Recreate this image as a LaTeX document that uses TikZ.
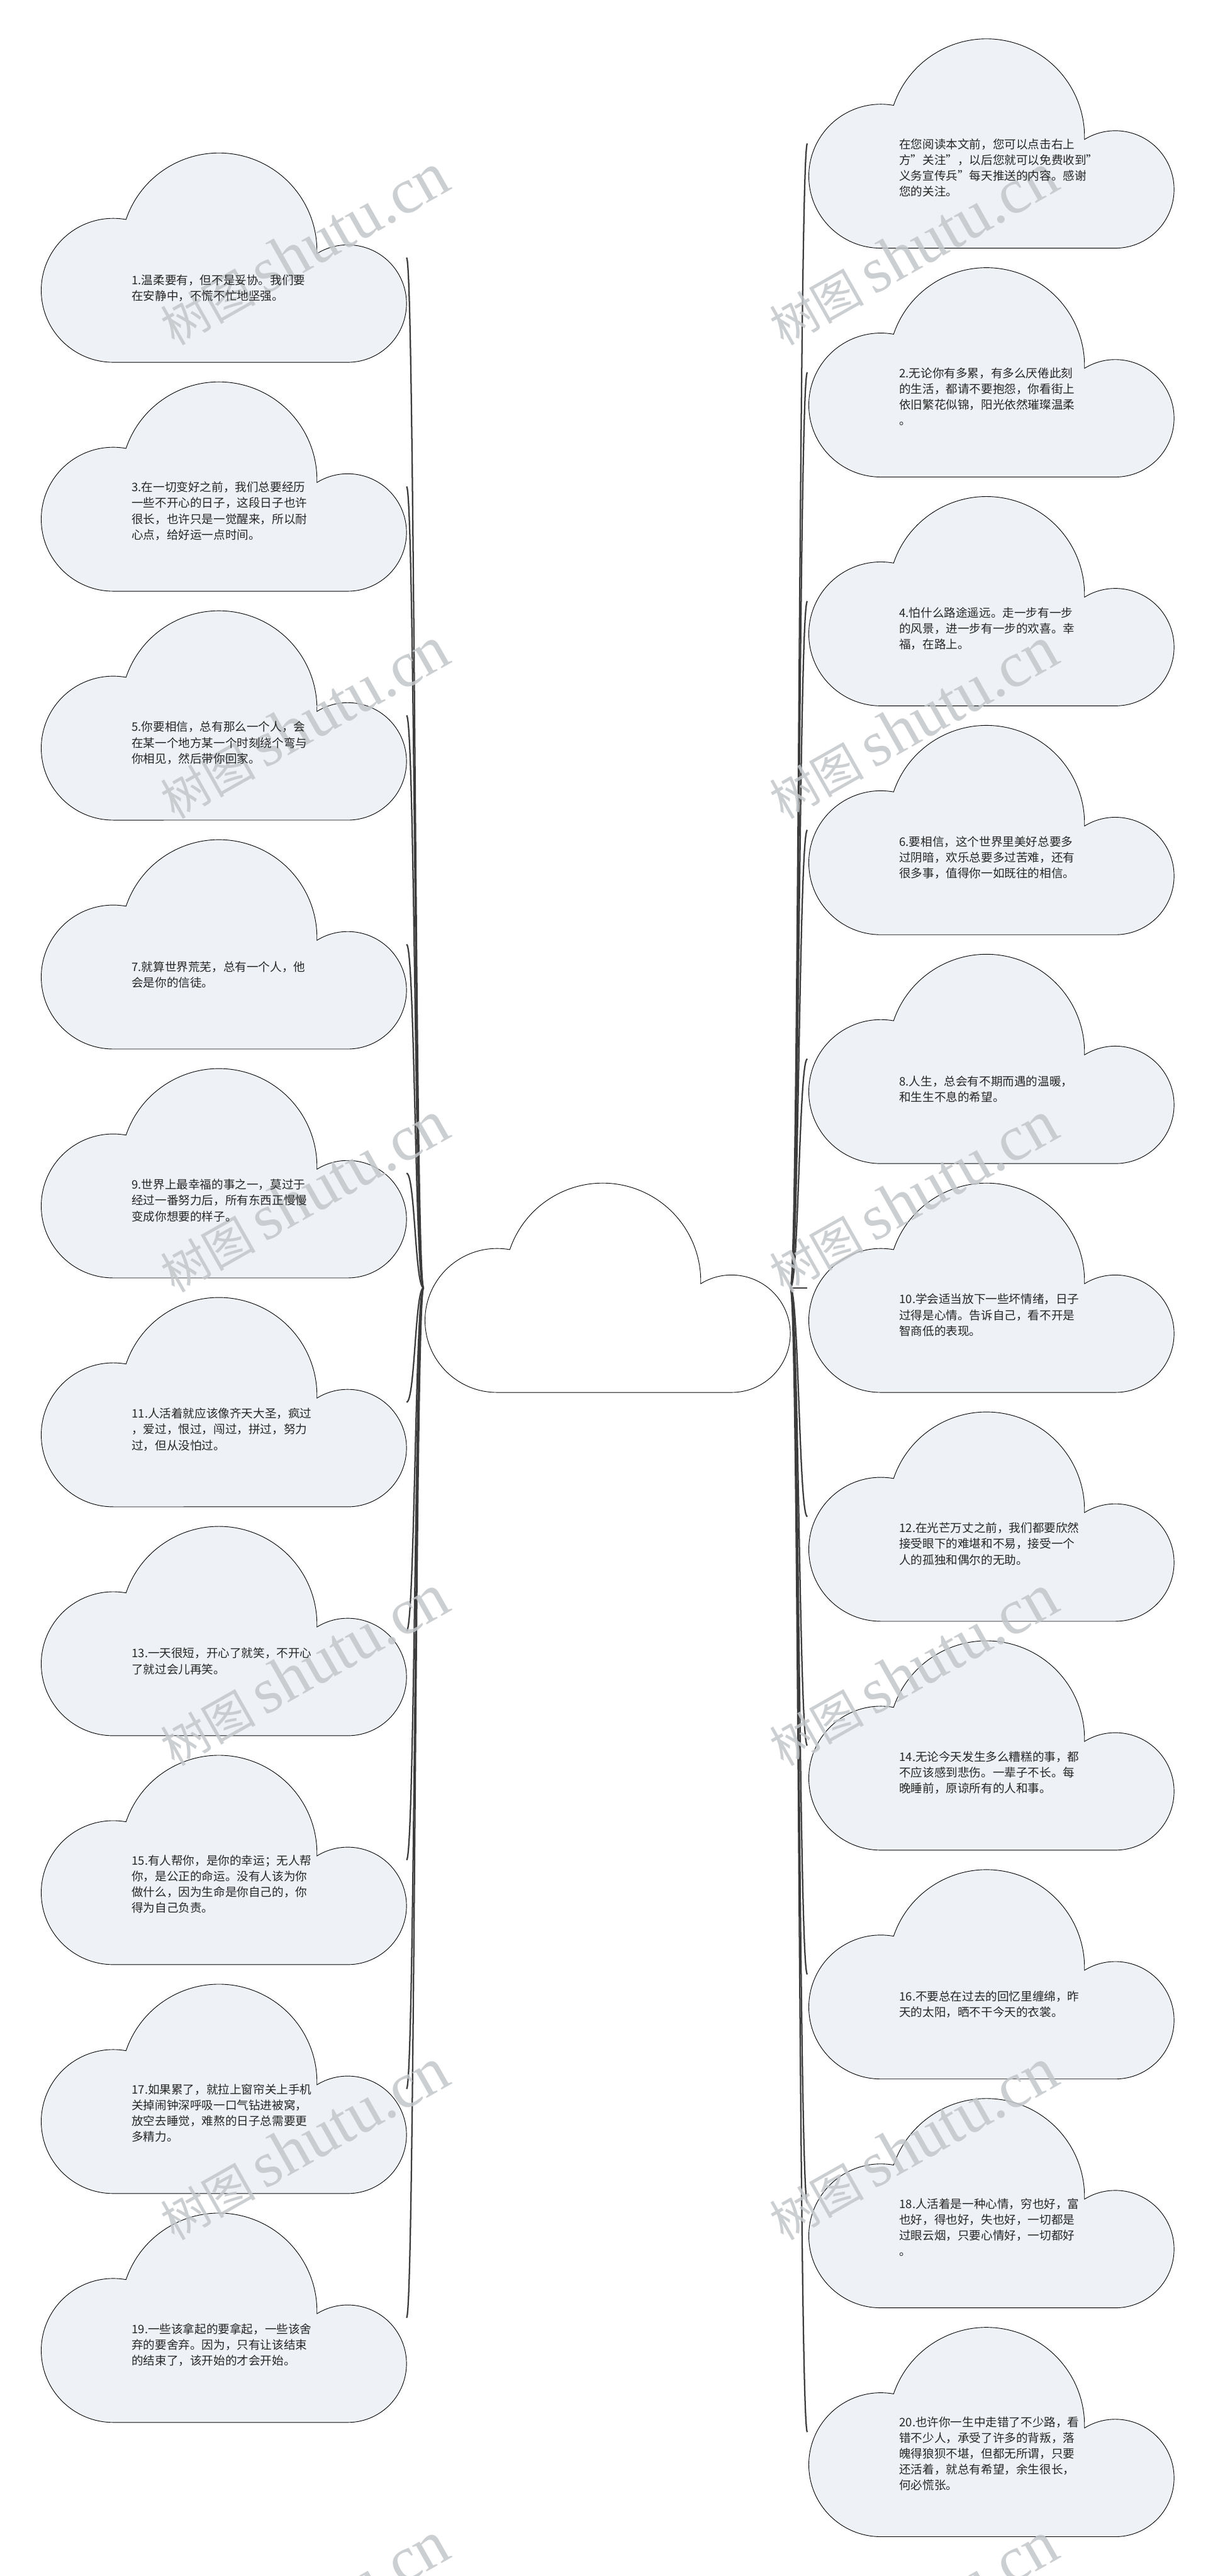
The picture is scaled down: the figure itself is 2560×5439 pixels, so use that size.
\documentclass[tikz,border=0pt]{standalone}
\usepackage{fontspec}
\setmainfont{Noto Sans CJK SC}
\newfontfamily\wmcjk{Noto Sans CJK SC}
\newfontfamily\wmlat{Liberation Serif}
\usetikzlibrary{backgrounds}
\definecolor{cloudfill}{HTML}{EEF1F5}
\definecolor{conncol}{HTML}{3C3C3C}
\definecolor{txtcol}{HTML}{262626}
\definecolor{wmcol}{HTML}{C4C7CA}
\tikzset{
  cloudbox/.style={rectangle, draw=none, minimum width=387pt, minimum height=221pt, inner sep=0pt, outer sep=0pt, anchor=north west},
  cloudline/.style={draw=black, line width=0.6pt},
  conn/.style={draw=conncol, line width=1.5pt},
  ctext/.style={anchor=north west, inner sep=0pt, outer sep=0pt, align=left, text=txtcol, font=\fontsize{12.35pt}{16.65pt}\selectfont},
  wmark/.style={rotate=29.5, text=wmcol, inner sep=0pt, opacity=0.85}
}
\newcommand\mkcloud[4]{%
  \path[cloudline, fill=#4, shift={(#2,-#3)}] (155,-442)
    arc[start angle=270, end angle=79.77, radius=152]
    arc[start angle=161.23, end angle=-1.5, radius=207]
    arc[start angle=121.65, end angle=-90, radius=124] -- cycle;
  \node[cloudbox] (#1) at (#2,-#3) {};
}
\newcommand\fl{\rule{0pt}{12.35pt}}
\newcommand\wmtext{{\wmcjk\fontsize{50pt}{50pt}\selectfont 树图}\hspace{10pt}{\wmlat\fontsize{68pt}{68pt}\selectfont shutu.cn}}
\begin{document}
\begin{tikzpicture}[x=0.5pt,y=0.5pt]
\useasboundingbox (0,0) rectangle (2560,-5439);
\begin{scope}[on background layer]
\fill[white] (0,0) rectangle (2560,-5439);
\end{scope}
% center
\mkcloud{C}{894}{2498}{white}
% left clouds
\mkcloud{L1}{84}{323}{cloudfill}
\mkcloud{L3}{84}{806.3}{cloudfill}
\mkcloud{L5}{84}{1289.6}{cloudfill}
\mkcloud{L7}{84}{1772.9}{cloudfill}
\mkcloud{L9}{84}{2256.2}{cloudfill}
\mkcloud{L11}{84}{2739.5}{cloudfill}
\mkcloud{L13}{84}{3222.8}{cloudfill}
\mkcloud{L15}{84}{3706.1}{cloudfill}
\mkcloud{L17}{84}{4189.4}{cloudfill}
\mkcloud{L19}{84}{4672.7}{cloudfill}
% right clouds
\mkcloud{R0}{1704}{82}{cloudfill}
\mkcloud{R2}{1704}{565.2}{cloudfill}
\mkcloud{R4}{1704}{1048.4}{cloudfill}
\mkcloud{R6}{1704}{1531.6}{cloudfill}
\mkcloud{R8}{1704}{2014.8}{cloudfill}
\mkcloud{R10}{1704}{2498}{cloudfill}
\mkcloud{R12}{1704}{2981.2}{cloudfill}
\mkcloud{R14}{1704}{3464.4}{cloudfill}
\mkcloud{R16}{1704}{3947.6}{cloudfill}
\mkcloud{R18}{1704}{4430.8}{cloudfill}
\mkcloud{R20}{1704}{4914}{cloudfill}
% connectors
\begin{scope}[on background layer]
\foreach \n in {L1,L3,L5,L7,L9,L11,L13,L15,L17,L19}
  \draw[conn] (C.west) .. controls +(-18,0) and +(18,0) .. (\n.east);
\foreach \n in {R0,R2,R4,R6,R8,R10,R12,R14,R16,R18,R20}
  \draw[conn] (C.east) .. controls +(18,0) and +(-18,0) .. (\n.west);
\end{scope}
% watermarks
\node[wmark] (W1) at (642,-527) {\wmtext};
\node[wmark] (W2) at (1927,-527) {\wmtext};
\node[wmark] (W3) at (642,-1527) {\wmtext};
\node[wmark] (W4) at (1927,-1527) {\wmtext};
\node[wmark] (W5) at (642,-2527) {\wmtext};
\node[wmark] (W6) at (1927,-2527) {\wmtext};
\node[wmark] (W7) at (642,-3527) {\wmtext};
\node[wmark] (W8) at (1927,-3527) {\wmtext};
\node[wmark] (W9) at (642,-4527) {\wmtext};
\node[wmark] (W10) at (1927,-4527) {\wmtext};
\node[wmark] (W11) at (642,-5527) {\wmtext};
\node[wmark] (W12) at (1927,-5527) {\wmtext};
% left texts
\node[ctext] (T1) at (278,-575.7) {\fl 1.温柔要有，但不是妥协。我们要\\在安静中，不慌不忙地坚强。};
\node[ctext] (T3) at (278,-1013.5) {\fl 3.在一切变好之前，我们总要经历\\一些不开心的日子，这段日子也许\\很长，也许只是一觉醒来，所以耐\\心点，给好运一点时间。};
\node[ctext] (T5) at (278,-1519.55) {\fl 5.你要相信，总有那么一个人，会\\在某一个地方某一个时刻绕个弯与\\你相见，然后带你回家。};
\node[ctext] (T7) at (278,-2025.6) {\fl 7.就算世界荒芜，总有一个人，他\\会是你的信徒。};
\node[ctext] (T9) at (278,-2486.15) {\fl 9.世界上最幸福的事之一，莫过于\\经过一番努力后，所有东西正慢慢\\变成你想要的样子。};
\node[ctext] (T11) at (278,-2969.45) {\fl 11.人活着就应该像齐天大圣，疯过\\，爱过，恨过，闯过，拼过，努力\\过，但从没怕过。};
\node[ctext] (T13) at (278,-3475.5) {\fl 13.一天很短，开心了就笑，不开心\\了就过会儿再笑。};
\node[ctext] (T15) at (278,-3913.3) {\fl 15.有人帮你，是你的幸运；无人帮\\你，是公正的命运。没有人该为你\\做什么，因为生命是你自己的，你\\得为自己负责。};
\node[ctext] (T17) at (278,-4396.6) {\fl 17.如果累了，就拉上窗帘关上手机\\关掉闹钟深呼吸一口气钻进被窝，\\放空去睡觉，难熬的日子总需要更\\多精力。};
\node[ctext] (T19) at (278,-4902.65) {\fl 19.一些该拿起的要拿起，一些该舍\\弃的要舍弃。因为，只有让该结束\\的结束了，该开始的才会开始。};
% right texts
\node[ctext] (T0) at (1898,-289.2) {\fl 在您阅读本文前，您可以点击右上\\方"关注"，以后您就可以免费收到"\\义务宣传兵"每天推送的内容。感谢\\您的关注。};
\node[ctext] (T2) at (1898,-772.4) {\fl 2.无论你有多累，有多么厌倦此刻\\的生活，都请不要抱怨，你看街上\\依旧繁花似锦，阳光依然璀璨温柔\\。};
\node[ctext] (T4) at (1898,-1278.35) {\fl 4.怕什么路途遥远。走一步有一步\\的风景，进一步有一步的欢喜。幸\\福，在路上。};
\node[ctext] (T6) at (1898,-1761.55) {\fl 6.要相信，这个世界里美好总要多\\过阴暗，欢乐总要多过苦难，还有\\很多事，值得你一如既往的相信。};
\node[ctext] (T8) at (1898,-2267.5) {\fl 8.人生，总会有不期而遇的温暖，\\和生生不息的希望。};
\node[ctext] (T10) at (1898,-2727.95) {\fl 10.学会适当放下一些坏情绪，日子\\过得是心情。告诉自己，看不开是\\智商低的表现。};
\node[ctext] (T12) at (1898,-3211.15) {\fl 12.在光芒万丈之前，我们都要欣然\\接受眼下的难堪和不易，接受一个\\人的孤独和偶尔的无助。};
\node[ctext] (T14) at (1898,-3694.35) {\fl 14.无论今天发生多么糟糕的事，都\\不应该感到悲伤。一辈子不长。每\\晚睡前，原谅所有的人和事。};
\node[ctext] (T16) at (1898,-4200.3) {\fl 16.不要总在过去的回忆里缠绵，昨\\天的太阳，晒不干今天的衣裳。};
\node[ctext] (T18) at (1898,-4638) {\fl 18.人活着是一种心情，穷也好，富\\也好，得也好，失也好，一切都是\\过眼云烟，只要心情好，一切都好\\。};
\node[ctext] (T20) at (1898,-5098.45) {\fl 20.也许你一生中走错了不少路，看\\错不少人，承受了许多的背叛，落\\魄得狼狈不堪，但都无所谓，只要\\还活着，就总有希望，余生很长，\\何必慌张。};
\end{tikzpicture}
\end{document}
